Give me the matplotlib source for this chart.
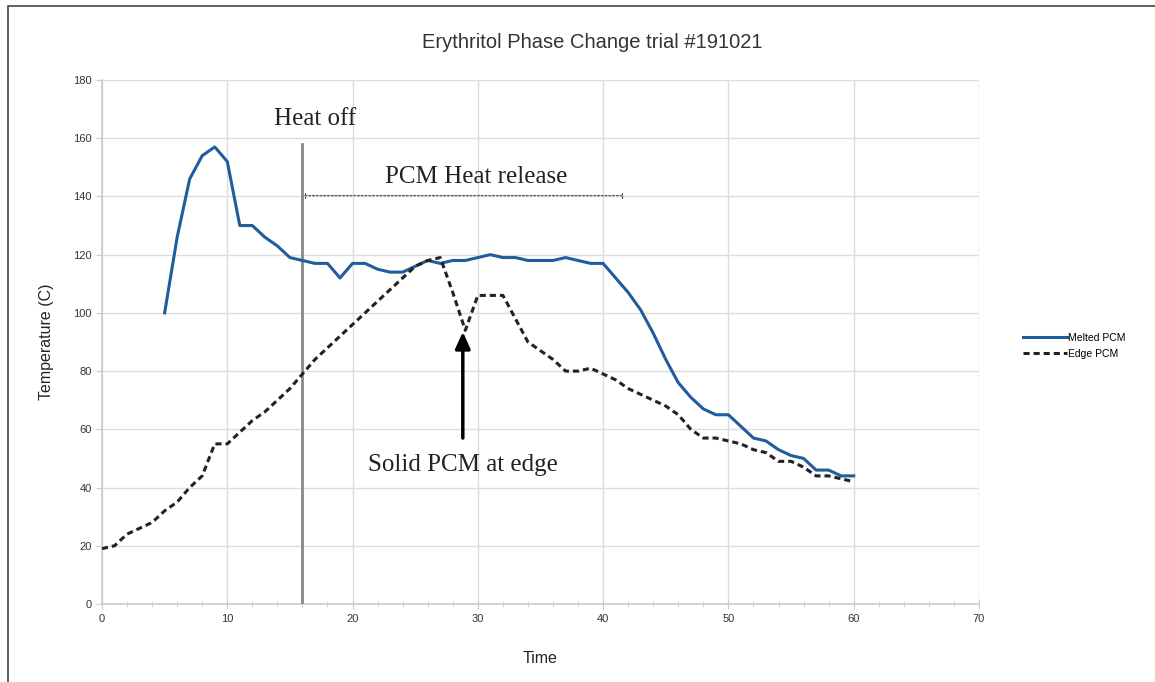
import matplotlib.pyplot as plt
from matplotlib.patches import Rectangle
from matplotlib.ticker import MultipleLocator

plt.rcParams['font.family'] = ['Liberation Sans', 'DejaVu Sans']

# Melted PCM probe (time 5..60)
melted_time = list(range(5, 61))
melted_temp = [100, 126, 146, 154, 157, 152, 130, 130, 126, 123, 119, 118, 117, 117, 112,
               117, 117, 115, 114, 114, 116, 118, 117, 118, 118, 119, 120, 119, 119, 118,
               118, 118, 119, 118, 117, 117, 112, 107, 101, 93, 84, 76, 71, 67, 65,
               65, 61, 57, 56, 53, 51, 50, 46, 46, 44, 44]

# Edge PCM probe (time 0..60)
edge_time = list(range(0, 61))
edge_temp = [19, 20, 24, 26, 28, 32, 35, 40, 44, 55, 55, 59, 63, 66, 70, 74, 79, 84, 88, 92,
             96, 100, 104, 108, 112, 116, 118, 119, 107, 94, 106, 106, 106, 98, 90, 87, 84, 80,
             80, 81, 79, 77, 74, 72, 70, 68, 65, 60, 57, 57, 56, 55, 53, 52, 49, 49, 47, 44,
             44, 43, 42]

heat_off_time = 16
release_span = (16.2, 41.5)
release_level = 140.3
solid_x = 28.8

fig = plt.figure(figsize=(11.55, 6.82), dpi=100)
ax = fig.add_axes([0.0883, 0.1144, 0.7593, 0.7683])

# outer frame like the spreadsheet export
fig.patches.append(Rectangle((8 / 1155, -0.1), 1.2, 1 - 6 / 682 + 0.1, transform=fig.transFigure,
                             fill=False, edgecolor='#444444', linewidth=1.2))

ax.plot(melted_time, melted_temp, color='#1f5d9c', linewidth=2.2, label='Melted PCM', zorder=4)
ax.plot(edge_time, edge_temp, color='#222222', linewidth=2.2, linestyle=(0, (2, 1.3)),
        label='Edge PCM', zorder=4)

ax.plot([heat_off_time, heat_off_time], [0, 158], color='#888888', linewidth=2, zorder=3)
ax.text(17.0, 166.5, 'Heat off', family='Liberation Serif', fontsize=18, ha='center', va='center',
        color='#222222')

ax.annotate('', xy=(release_span[0], release_level), xytext=(release_span[1], release_level),
            arrowprops=dict(arrowstyle='|-|,widthA=0.15,widthB=0.15', color='#555555',
                            linestyle=(0, (1.5, 1.5)), linewidth=0.9, shrinkA=0, shrinkB=0))
ax.text(29.9, 146.8, 'PCM Heat release', family='Liberation Serif', fontsize=18, ha='center',
        va='center', color='#222222')

ax.annotate('', xy=(solid_x, 93.5), xytext=(solid_x, 57),
            arrowprops=dict(arrowstyle='-|>,head_width=0.45,head_length=1.0', color='black',
                            linewidth=2.5, shrinkA=0, shrinkB=0))
ax.text(solid_x, 47.8, 'Solid PCM at edge', family='Liberation Serif', fontsize=18, ha='center',
        va='center', color='#222222')

ax.set_xlim(0, 70)
ax.set_ylim(0, 180)
ax.xaxis.set_major_locator(MultipleLocator(10))
ax.xaxis.set_minor_locator(MultipleLocator(2))
ax.yaxis.set_major_locator(MultipleLocator(20))
ax.grid(True, which='major', color='#dddddd', linewidth=1)
ax.set_axisbelow(True)
for s in ax.spines.values():
    s.set_visible(False)
ax.spines['left'].set_visible(True)
ax.spines['bottom'].set_visible(True)
ax.spines['left'].set_color('#cccccc')
ax.spines['bottom'].set_color('#cccccc')
ax.spines['left'].set_linewidth(1.2)
ax.spines['bottom'].set_linewidth(1.2)
ax.tick_params(which='major', axis='both', color='#cccccc', length=4, labelsize=8,
               labelcolor='#333333', direction='out')
ax.tick_params(which='minor', axis='x', color='#cccccc', length=5, direction='inout')
ax.tick_params(axis='x', which='major', direction='inout', length=7, pad=4)

ax.set_xlabel('Time', fontsize=11.5, labelpad=19, color='#222222')
ax.set_ylabel('Temperature (C)', fontsize=11.5, labelpad=14, color='#222222')
fig.text(0.513, 0.937, 'Erythritol Phase Change trial #191021', ha='center', va='center',
         fontsize=14.5, color='#333333')

fig.legend(loc='center left', bbox_to_anchor=(0.878, 0.493), frameon=False, fontsize=7.5,
           handlelength=4.2, handletextpad=0.1, labelspacing=0.55)

fig.savefig('out.png', dpi=100)
